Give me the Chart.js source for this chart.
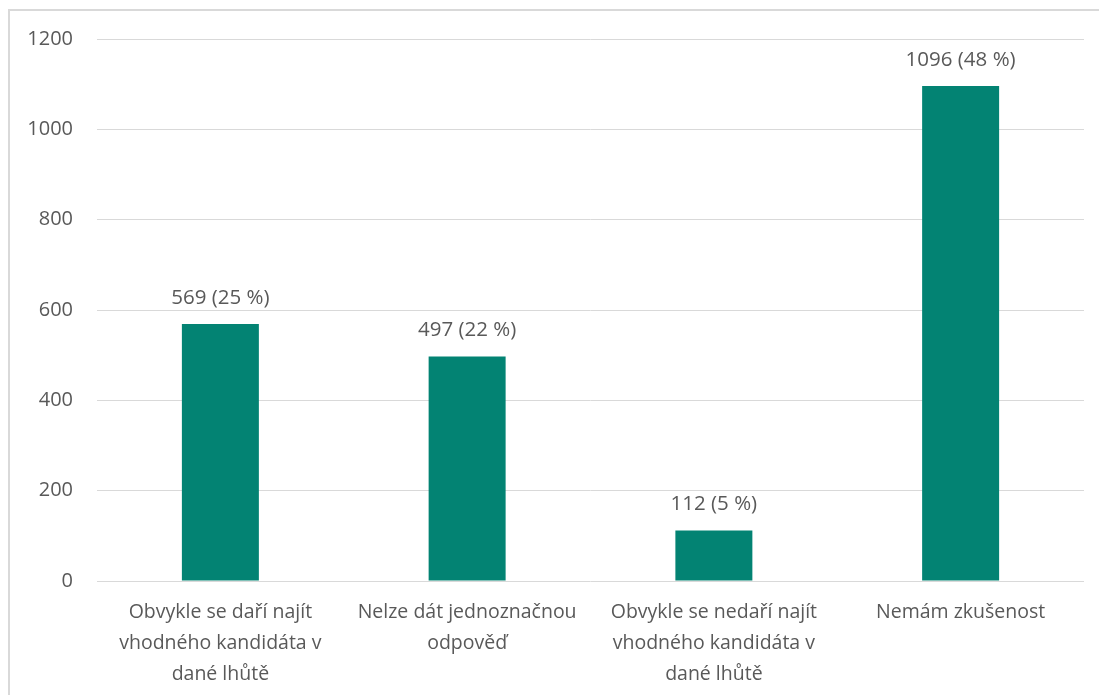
<!DOCTYPE html>
<html>
<head>
<meta charset="utf-8">
<script src="https://cdn.jsdelivr.net/npm/chart.js@4.4.0/dist/chart.umd.min.js"></script>
<style>
  html, body { margin: 0; padding: 0; background: #fff; overflow: hidden; }
  #frame { position: absolute; left: 8px; top: 9px; width: 1200px; height: 800px;
           border: 2px solid #d9d9d9; box-sizing: border-box; }
  #wrap { position: absolute; left: 0; top: 0; width: 1099px; height: 695px; }
</style>
</head>
<body>
<div id="frame"></div>
<div id="wrap"><canvas id="chart"></canvas></div>
<script>
// data
const categories = [
    ['Obvykle se daří najít', 'vhodného kandidáta v', 'dané lhůtě'],
    ['Nelze dát jednoznačnou', 'odpověď'],
    ['Obvykle se nedaří najít', 'vhodného kandidáta v', 'dané lhůtě'],
    ['Nemám zkušenost']
];
const counts   = [569, 497, 112, 1096];
const percents = [25, 22, 5, 48];
const yTicks   = { min: 0, max: 1200, step: 200 };

const FONT = '"Open Sans", "Noto Sans", sans-serif';
const TEXT = '#595959';

// value labels above the bars: "569 (25 %)"
const barLabels = {
    id: 'barLabels',
    afterDatasetsDraw(chart) {
        const { ctx } = chart;
        const meta = chart.getDatasetMeta(0);
        ctx.save();
        ctx.font = '20.5px ' + FONT;
        ctx.fillStyle = TEXT;
        ctx.textAlign = 'center';
        ctx.textBaseline = 'middle';
        meta.data.forEach((bar, i) => {
            ctx.fillText(`${counts[i]} (${percents[i]} %)`, bar.x, bar.y - 26);
        });
        ctx.restore();
    }
};

new Chart(document.getElementById('chart'), {
    type: 'bar',
    data: {
        labels: categories,
        datasets: [{
            data: counts,
            backgroundColor: '#038373',
            borderWidth: 0,
            categoryPercentage: 1,
            barPercentage: 0.312
        }]
    },
    options: {
        responsive: true,
        maintainAspectRatio: false,
        animation: false,
        layout: { padding: { left: 0, top: 39, right: 15, bottom: 0 } },
        plugins: { legend: { display: false }, tooltip: { enabled: false } },
        scales: {
            y: {
                min: yTicks.min, max: yTicks.max,
                ticks: { stepSize: yTicks.step, padding: 24, color: TEXT,
                         font: { family: FONT, size: 20 }, callback: v => String(v) },
                grid: { color: '#d9d9d9', lineWidth: 1, drawTicks: false },
                border: { display: false },
                afterFit: s => { s.width = 97; }
            },
            x: {
                ticks: { padding: 16, color: TEXT, font: { family: FONT, size: 19.5, lineHeight: 1.59 },
                         maxRotation: 0, autoSkip: false },
                grid: { display: false, drawTicks: false },
                border: { display: false },
                afterFit: s => { s.height = 114; }
            }
        }
    },
    plugins: [barLabels]
});
</script>
</body>
</html>
